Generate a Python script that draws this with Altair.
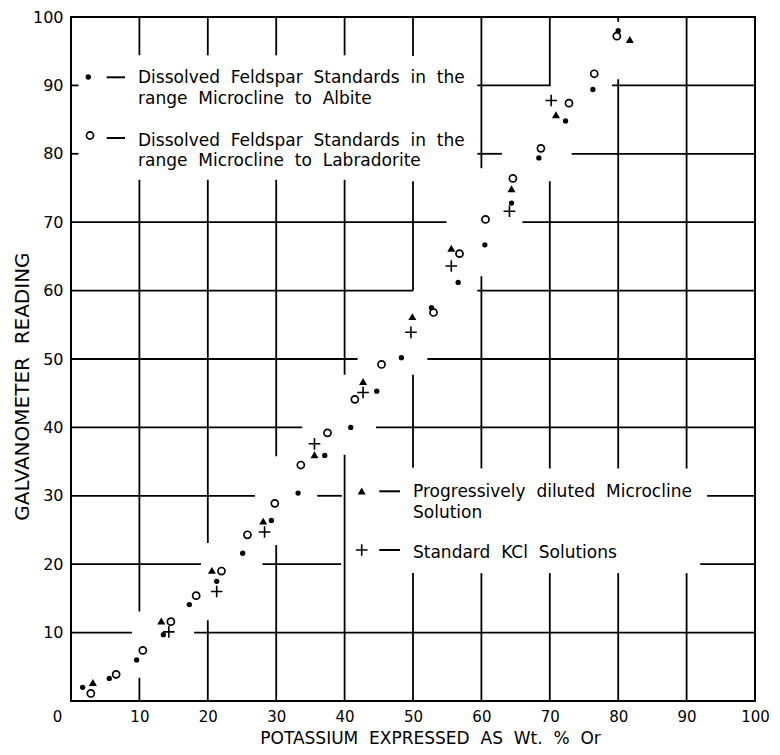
import altair as alt
import pandas as pd

# ---------------- data ----------------
# Dissolved feldspar standards, Microcline -> Albite (filled dots)
albite_x = [1.7, 5.6, 9.6, 13.5, 17.3, 21.3, 25.1, 29.3, 33.2, 37.1, 40.9,
            44.7, 48.3, 52.7, 56.6, 60.5, 64.4, 68.4, 72.3, 76.3, 80.0]
albite_y = [2.0, 3.3, 6.0, 9.7, 14.1, 17.5, 21.6, 26.4, 30.4, 35.9, 40.0,
            45.3, 50.2, 57.5, 61.2, 66.7, 72.8, 79.4, 84.8, 89.4, 98.0]

# Dissolved feldspar standards, Microcline -> Labradorite (open circles)
labr_x = [2.9, 6.6, 10.5, 14.6, 18.3, 22.0, 25.8, 29.8, 33.6, 37.5, 41.5,
          45.4, 53.0, 56.8, 60.6, 64.6, 68.7, 72.8, 76.5, 79.8]
labr_y = [1.1, 3.9, 7.4, 11.6, 15.4, 19.0, 24.3, 28.9, 34.5, 39.2, 44.1,
          49.2, 56.8, 65.4, 70.4, 76.4, 80.8, 87.4, 91.7, 97.2]

# Progressively diluted microcline solution (triangles)
dil_x = [3.2, 13.2, 20.6, 28.1, 35.6, 42.7, 49.9, 55.6, 64.4, 70.9, 81.7]
dil_y = [2.7, 11.7, 19.1, 26.3, 36.0, 46.7, 56.2, 66.2, 74.9, 85.7, 96.7]

# Standard KCl solutions (plus signs)
kcl_x = [14.3, 21.3, 28.3, 35.6, 42.7, 49.7, 55.6, 64.1, 70.2]
kcl_y = [10.1, 16.0, 24.7, 37.6, 45.1, 53.9, 63.6, 71.6, 87.8]

x_ticks = [0, 10, 20, 30, 40, 50, 60, 70, 80, 90, 100]
y_ticks = [10, 20, 30, 40, 50, 60, 70, 80, 90, 100]

# hand-drawn grid: visible pieces of each grid line (data units)
hgrid_y  = [10, 10, 20, 20, 20, 30, 30, 30, 40, 40, 50, 50, 60, 60, 70, 70,
            80, 80, 80, 90, 90, 90]
hgrid_x1 = [0, 18, 0, 28, 92, 0, 36, 93, 0, 44.6, 0, 52.1, 0, 59.4, 0, 66,
            0, 59.4, 73.2, 0, 59.4, 79.1]
hgrid_x2 = [8.9, 100, 19, 39.5, 100, 26.9, 39.6, 100, 33.8, 100, 41.9, 100,
            50, 100, 54.9, 100, 1.1, 63, 100, 1.1, 70, 100]

vgrid_x  = [10, 10, 10, 20, 20, 20, 30, 30, 30, 40, 40, 40, 50, 50, 50, 50,
            60, 60, 60, 70, 70, 70, 80, 80, 80, 90, 90]
vgrid_y1 = [0, 13.1, 94.4, 0, 23.1, 94.4, 0, 35.8, 94.4, 0, 47.7, 94.4,
            0, 34.1, 60, 94.3, 0, 34, 77.9, 0, 34, 89.9, 0, 34, 99.3, 0, 34]
vgrid_y2 = [3.4, 76.2, 100, 11.8, 76.2, 100, 22.8, 76.2, 100, 36, 76.2, 100,
            18.7, 47.7, 76, 100, 18.7, 62.1, 100, 18.7, 76, 100, 18.7, 90.9,
            100, 18.7, 100]

SP = "\u00a0\u00a0"
legend_lines = [
    ["Dissolved", "Feldspar", "Standards", "in", "the"],
    ["range", "Microcline", "to", "Albite"],
    ["Dissolved", "Feldspar", "Standards", "in", "the"],
    ["range", "Microcline", "to", "Labradorite"],
    ["Progressively", "diluted", "Microcline"],
    ["Solution"],
    ["Standard", "KCl", "Solutions"],
]
x_title = SP.join(["POTASSIUM", "EXPRESSED", "AS", "Wt.", "%", "Or"])
y_title = SP.join(["GALVANOMETER", "READING"])

# ---------------- chart ----------------
FONT = "DejaVu Sans"
PLUS = "M-1,0L1,0M0,-1L0,1"

xs = alt.Scale(domain=[0, 100], nice=False, zero=False)
ys = alt.Scale(domain=[0, 100], nice=False, zero=False)

x_axis = alt.Axis(
    values=x_ticks, grid=False, ticks=False, tickSize=0, domain=False,
    labelFont=FONT, labelFontSize=15, labelColor="black", labelPadding=8,
    labelFlush=False, labelOverlap=False,
    labelOffset={"condition": {"test": "datum.value === 0", "value": -14}, "value": 0},
    title=x_title, titleFont=FONT, titleFontSize=17, titleFontWeight="normal",
    titleColor="black", titleX=359, titleY=42, titleAlign="center",
    titleBaseline="alphabetic",
)
y_axis = alt.Axis(
    values=y_ticks, grid=False, ticks=False, tickSize=0, domain=False,
    labelFont=FONT, labelFontSize=16, labelColor="black", labelPadding=8,
    labelFlush=False, labelOverlap=False,
    title=y_title, titleFont=FONT, titleFontSize=20, titleFontWeight="normal",
    titleColor="black", titleX=-49, titleY=369, titleAngle=270,
    titleAlign="center", titleBaseline="middle",
)

hgrid = pd.DataFrame({"y": hgrid_y, "x1": hgrid_x1, "x2": hgrid_x2})
vgrid = pd.DataFrame({"x": vgrid_x, "y1": vgrid_y1, "y2": vgrid_y2})

h_layer = alt.Chart(hgrid).mark_rule(color="black", strokeWidth=1.8).encode(
    x=alt.X("x1:Q", scale=xs, axis=x_axis), x2="x2:Q",
    y=alt.Y("y:Q", scale=ys, axis=y_axis))
v_layer = alt.Chart(vgrid).mark_rule(color="black", strokeWidth=1.8).encode(
    x=alt.X("x:Q", scale=xs, axis=x_axis),
    y=alt.Y("y1:Q", scale=ys, axis=y_axis), y2="y2:Q")

def series(xv, yv):
    return pd.DataFrame({"x": xv, "y": yv})

def pt_enc():
    return dict(x=alt.X("x:Q", scale=xs, axis=x_axis),
                y=alt.Y("y:Q", scale=ys, axis=y_axis))

lab_layer = alt.Chart(series(labr_x, labr_y)).mark_point(
    shape="circle", filled=False, stroke="black", strokeWidth=1.7, size=50,
    opacity=1).encode(**pt_enc())
alb_layer = alt.Chart(series(albite_x, albite_y)).mark_point(
    shape="circle", filled=True, color="black", size=28, opacity=1).encode(**pt_enc())
dil_layer = alt.Chart(series(dil_x, dil_y)).mark_point(
    shape="triangle-up", filled=True, color="black", size=64, opacity=1).encode(**pt_enc())
kcl_layer = alt.Chart(series(kcl_x, kcl_y)).mark_point(
    shape=PLUS, filled=False, stroke="black", strokeWidth=1.6, size=135,
    opacity=1).encode(**pt_enc())

# ---------------- legend (hand placed, pixel positions) ----------------
legend_layers = []
text_pos = [(67, 66), (67, 87), (67, 129), (67, 149), (342, 480), (342, 501), (342, 541)]
for words, (tx, ty) in zip(legend_lines, text_pos):
    legend_layers.append(
        alt.Chart().mark_text(font=FONT, fontSize=17, align="left",
                              baseline="alphabetic", color="black").encode(
            x=alt.value(tx), y=alt.value(ty), text=alt.value(SP.join(words))))

marker_specs = [
    (17.3, 60, dict(shape="circle", filled=True, color="black", size=28)),
    (19, 118.5, dict(shape="circle", filled=False, stroke="black", strokeWidth=1.7, size=50)),
    (290.7, 474, dict(shape="triangle-up", filled=True, color="black", size=64)),
    (290.7, 533, dict(shape=PLUS, filled=False, stroke="black", strokeWidth=1.6, size=135)),
]
for mx, my, kw in marker_specs:
    legend_layers.append(
        alt.Chart().mark_point(opacity=1, **kw).encode(x=alt.value(mx), y=alt.value(my)))

dash_specs = [(35.7, 54, 60.3), (35.7, 54, 121), (308.3, 329, 474.3), (308.3, 329, 533)]
for d1, d2, dy in dash_specs:
    legend_layers.append(
        alt.Chart().mark_rule(color="black", strokeWidth=2).encode(
            x=alt.value(d1), x2=alt.value(d2), y=alt.value(dy)))

chart = alt.layer(
    h_layer, v_layer, lab_layer, alb_layer, dil_layer, kcl_layer, *legend_layers
).properties(
    width=684, height=684,
    autosize=alt.AutoSizeParams(type="none"),
    padding={"left": 63, "top": 9, "right": 17, "bottom": 46},
    background="white",
).configure_view(stroke="black", strokeWidth=2)

chart.save("out.html", embed_options={"renderer": "svg", "actions": False})
